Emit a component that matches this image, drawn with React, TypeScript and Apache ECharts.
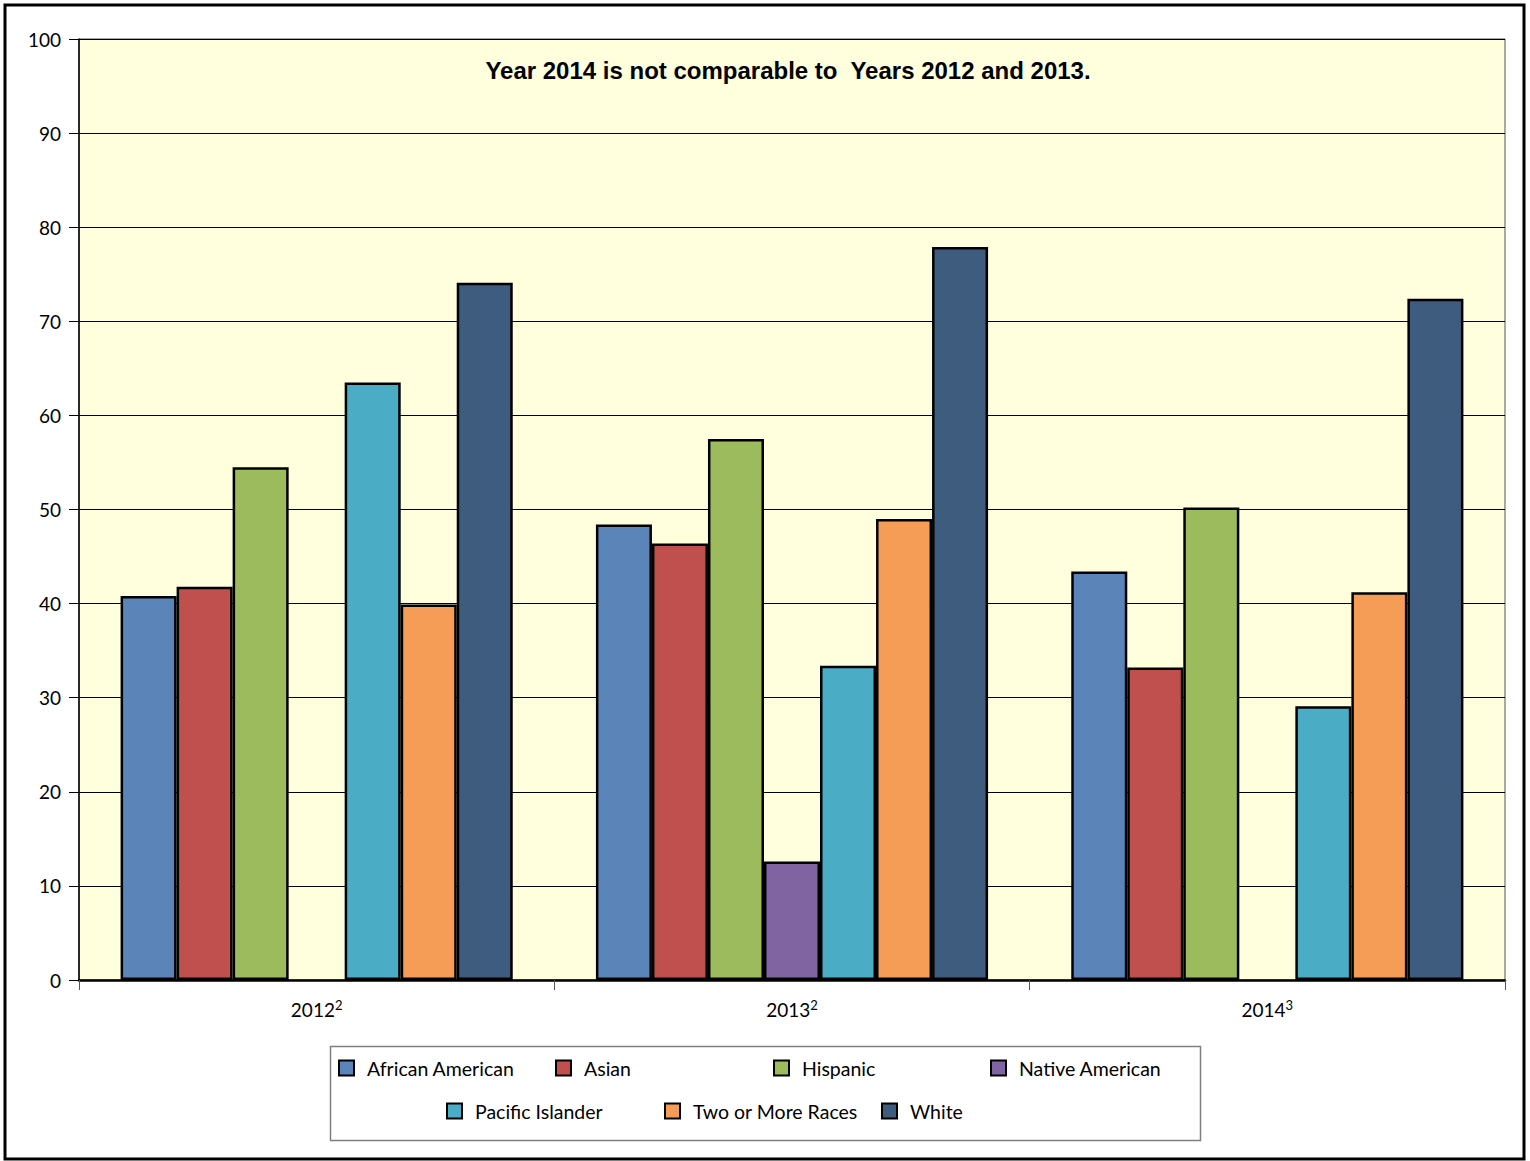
import React, { useEffect, useRef } from "react";
import * as echarts from "echarts";

const years = ["2012²", "2013²", "2014³"];
const africanAmerican = [40.8, 48.4, 43.4];
const asian = [41.8, 46.4, 33.2];
const hispanic = [54.5, 57.5, 50.2];
const nativeAmerican: (number | string)[] = ["-", 12.6, "-"];
const pacificIslander = [63.5, 33.4, 29.1];
const twoOrMore = [39.9, 49.0, 41.2];
const white = [74.1, 77.9, 72.4];

const seriesDefs = [
  { name: "African American", data: africanAmerican, color: "#5B84B8" },
  { name: "Asian", data: asian, color: "#C0504D" },
  { name: "Hispanic", data: hispanic, color: "#9BBB5C" },
  { name: "Native American", data: nativeAmerican, color: "#8064A2" },
  { name: "Pacific Islander", data: pacificIslander, color: "#4BACC6" },
  { name: "Two or More Races", data: twoOrMore, color: "#F59C57" },
  { name: "White", data: white, color: "#3E5C7E" },
];

// legend slot positions: four per row on top, three centred below
const legendSlots = [
  [338, 1058],
  [555, 1058],
  [773, 1058],
  [990, 1058],
  [446, 1101],
  [664, 1101],
  [881, 1101],
];

const FONT = "Lato, 'Open Sans', sans-serif";

export default function App() {
  const ref = useRef<HTMLDivElement>(null);

  useEffect(() => {
    const chart = echarts.init(ref.current!, null, { renderer: "svg" });

    const legends = seriesDefs.map((s, i) => ({
      data: [s.name],
      left: legendSlots[i][0],
      top: legendSlots[i][1],
      padding: 0,
      icon: "rect",
      itemWidth: 15,
      itemHeight: 15,
      formatter: "{n|{name}}",
      textStyle: {
        rich: { n: { fontFamily: FONT, fontSize: 19.5, color: "#000", padding: [0, 0, 0, 8] } },
      },
    }));

    chart.setOption({
      animation: false,
      backgroundColor: "#fff",
      graphic: [
        {
          type: "rect",
          shape: { x: 5, y: 5, width: 1519, height: 1154 },
          style: { fill: "none", stroke: "#000", lineWidth: 3 },
          silent: true,
          z: 100,
        },
        {
          type: "rect",
          shape: { x: 330.5, y: 1046.5, width: 870, height: 94 },
          style: { fill: "none", stroke: "#7f7f7f", lineWidth: 1.5 },
          silent: true,
        },
        {
          type: "text",
          x: 788,
          y: 70,
          style: {
            text: "Year 2014 is not comparable to  Years 2012 and 2013.",
            fontFamily: "'Liberation Sans', Arial, sans-serif",
            fontWeight: "bold",
            fontSize: 24,
            fill: "#000",
            align: "center",
            verticalAlign: "middle",
          },
          z: 50,
        },
      ],
      legend: legends,
      grid: {
        left: 79,
        top: 39,
        right: 25,
        bottom: 181,
        show: true,
        backgroundColor: "#FFFEDD",
        borderColor: "#555",
        borderWidth: 1,
      },
      xAxis: {
        type: "category",
        data: years,
        axisLine: { lineStyle: { color: "#000", width: 2.5 } },
        axisTick: { show: true, length: 10, lineStyle: { color: "#555", width: 1 } },
        axisLabel: {
          margin: 18,
          formatter: (v: string) => {
            const m = v.match(/^(\d+)([²³])$/);
            if (!m) return `{b|${v}}`;
            return `{b|${m[1]}}{s|${m[2] === "²" ? "2" : "3"}}`;
          },
          rich: {
            b: { fontFamily: FONT, fontSize: 19, color: "#000", lineHeight: 21, verticalAlign: "bottom" },
            s: { fontFamily: FONT, fontSize: 13, color: "#000", lineHeight: 21, verticalAlign: "top" },
          },
        },
      },
      yAxis: {
        type: "value",
        min: 0,
        max: 100,
        interval: 10,
        axisLine: { show: true, lineStyle: { color: "#000", width: 1.5 } },
        axisTick: { show: true, length: 10, lineStyle: { color: "#000", width: 1 } },
        axisLabel: { fontFamily: FONT, fontSize: 19, color: "#000", margin: 18 },
        splitLine: { lineStyle: { color: "#000", width: 1 } },
      },
      series: seriesDefs.map((s) => ({
        type: "bar",
        name: s.name,
        data: s.data,
        barGap: "0%",
        barCategoryGap: "17.5%",
        itemStyle: { color: s.color, borderColor: "#000", borderWidth: 2.5 },
      })),
    });

    return () => chart.dispose();
  }, []);

  return (
    <div
      ref={ref}
      style={{ position: "fixed", left: 0, top: 0, width: 1530, height: 1161 }}
    />
  );
}
